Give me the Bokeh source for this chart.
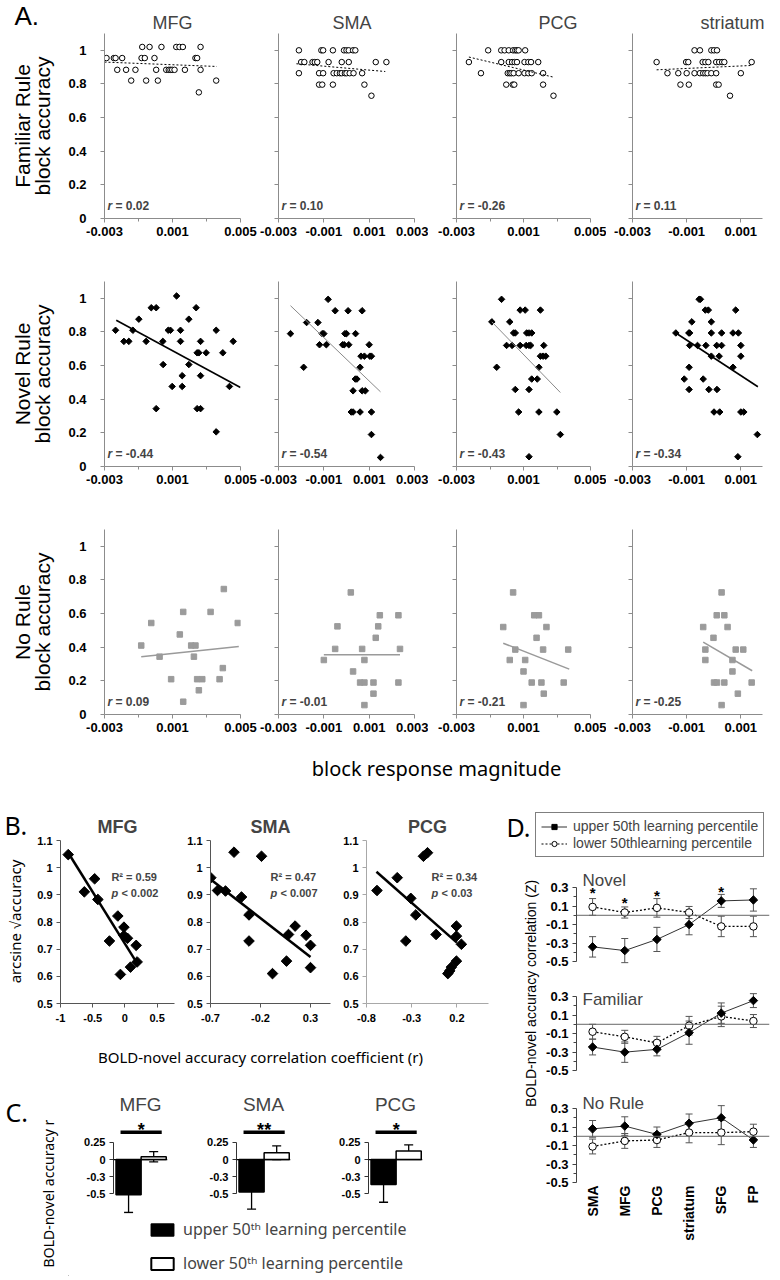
import math
from bokeh.plotting import figure
from bokeh.layouts import row, column
from bokeh.models import (Range1d, FactorRange, FixedTicker, PrintfTickFormatter, Label,
                          Span, Whisker, TeeHead, ColumnDataSource, Legend, LegendItem)
from bokeh.core.properties import value
from bokeh.embed import file_html
from bokeh.resources import INLINE

ARIAL = "Liberation Sans"
HUMAN = "Noto Sans"

# ------------------------------------------------------------------ data: panel A
regions_a = ["MFG", "SMA", "PCG", "striatum"]
row_labels_a = [("Familiar Rule", "block accuracy"), ("Novel Rule", "block accuracy"), ("No Rule", "block accuracy")]
y_ticks_a = [0, 0.2, 0.4, 0.6, 0.8, 1.0]

# Familiar rule (open circles)
fam_mfg_x = [-0.00288, -0.00245, -0.00235, -0.00196, -0.00225, -0.00173, -0.00143, -0.00118, -0.00078, -0.00082,
             -0.00063, -0.00055, -0.00035, -0.00006, 0.00004, 0.00014, 0.00035, 0.00063, 0.00078, 0.00088,
             0.00098, 0.00112, 0.00122, 0.00141, 0.00161, 0.00173, 0.00235, 0.00245, 0.00255, 0.00265,
             0.00265, 0.00357]
fam_mfg_y = [0.954, 0.954, 0.954, 0.954, 0.884, 0.884, 0.82, 0.884, 1.02, 0.954,
             0.954, 0.82, 1.02, 0.954, 0.884, 0.82, 1.02, 0.884, 0.884, 0.884,
             0.884, 0.884, 1.02, 1.02, 1.02, 0.884, 0.954, 0.954, 0.75, 1.02,
             0.884, 0.82]
fam_mfg_fit_x = [-0.003, 0.0036]
fam_mfg_fit_y = [0.93, 0.904]

fam_sma_x = [-0.0021, -0.00111, -0.00103, -0.0006, -0.00011, 0.0, 0.0001, 0.00029, 0.00039,
             -0.002, -0.00186, -0.0015, -0.0014, -0.00129, -0.00079, -0.00021, 0.0001, 0.00129, 0.00176,
             -0.0021, -0.00121, -0.00103, -0.00057, -0.00043, -0.00029, -0.00021, -0.00007, 0.0, 0.00014,
             0.00031, 0.00069,
             -0.00121, -0.00107, -0.0006, 0.00079,
             0.0011]
fam_sma_y = [1.0, 1.0, 1.0, 1.0, 1.0, 1.0, 1.0, 1.0, 1.0,
             0.93, 0.93, 0.93, 0.93, 0.93, 0.93, 0.93, 0.93, 0.93, 0.93,
             0.864, 0.864, 0.864, 0.864, 0.864, 0.864, 0.864, 0.864, 0.864, 0.864,
             0.864, 0.864,
             0.796, 0.796, 0.796, 0.796,
             0.73]
fam_sma_fit_x = [-0.00221, 0.00171]
fam_sma_fit_y = [0.92, 0.874]

fam_pcg_x = [-0.00111, -0.00033, -0.00013, 0.00012, 0.00038, 0.00051, 0.00061, 0.00071, 0.0011,
             -0.00226, -0.00033, 0.00012, 0.00032, 0.00047, 0.00061, 0.00106, 0.00129, 0.00145, 0.00188,
             -0.00154, 0.00006, 0.00018, 0.00028, 0.00041, 0.00071, 0.00106, 0.00129, 0.00149, 0.00217,
             -0.00003, 0.00036, 0.00045, 0.00217,
             0.00279]
fam_pcg_y = [1.0, 1.0, 1.0, 1.0, 1.0, 1.0, 1.0, 1.0, 1.0,
             0.93, 0.93, 0.93, 0.93, 0.93, 0.93, 0.93, 0.93, 0.93, 0.93,
             0.864, 0.864, 0.864, 0.864, 0.864, 0.864, 0.864, 0.864, 0.864, 0.864,
             0.796, 0.796, 0.796, 0.796,
             0.73]
fam_pcg_fit_x = [-0.00226, 0.00281]
fam_pcg_fit_y = [0.96, 0.84]

fam_str_x = [-0.00071, -0.00051, -0.00009, 0.00001, 0.00012,
             -0.00211, -0.00102, -0.00094, -0.00041, -0.00031, -0.0002, 0.00009, 0.0002, 0.00031, 0.00039, 0.0014,
             -0.00171, -0.00131, -0.001, -0.00071, -0.00051, -0.00039, -0.00031, -0.00023, -0.00009, 0.00009, 0.001,
             -0.00123, -0.00092, 0.00009, 0.00018,
             0.0006]
fam_str_y = [1.0, 1.0, 1.0, 1.0, 1.0,
             0.93, 0.93, 0.93, 0.93, 0.93, 0.93, 0.93, 0.93, 0.93, 0.93, 0.93,
             0.864, 0.864, 0.864, 0.864, 0.864, 0.864, 0.864, 0.864, 0.864, 0.864, 0.864,
             0.796, 0.796, 0.796, 0.796,
             0.73]
fam_str_fit_x = [-0.00211, 0.0014]
fam_str_fit_y = [0.884, 0.91]

# Novel rule (black diamonds)
nov_mfg_x = [-0.00235, -0.00186, -0.00157, -0.00133, -0.00098, -0.00055, -0.00025, 0.00004, 0.00043, 0.00045,
             0.00004, 0.00075, 0.00088, 0.00098, 0.00124, 0.00147, 0.00147, 0.00157, 0.00157, 0.00196,
             0.00196, 0.00239, 0.00245, 0.00255, 0.00245, 0.00265, 0.00265, 0.00265, 0.00298, 0.00357,
             0.00357, 0.00396, 0.00435, 0.00457]
nov_mfg_y = [0.81, 0.744, 0.744, 0.81, 0.876, 0.744, 0.944, 0.944, 0.744, 0.606,
             0.344, 0.81, 0.81, 0.476, 1.014, 0.81, 0.744, 0.54, 0.476, 0.876,
             0.606, 0.944, 0.676, 0.676, 0.344, 0.344, 0.744, 0.54, 0.676, 0.81,
             0.206, 0.676, 0.476, 0.744]
nov_mfg_fit_x = [-0.00231, 0.005]
nov_mfg_fit_y = [0.87, 0.47]

nov_sma_x = [-0.00247, -0.00189, -0.00176, -0.00126, -0.00119, -0.00107, -0.001, -0.00089, -0.00081, -0.0005,
             -0.00017, -0.0001, -0.00007, 0.0, 0.00007, 0.0001, 0.00029, 0.00021, 0.00029, 0.0004,
             0.00039, 0.00046, 0.0006, 0.0006, 0.00064, 0.00069, 0.00069, 0.00079, 0.00083, 0.001,
             0.00103, 0.0011, 0.0011, 0.0011, 0.0015]
nov_sma_y = [0.79, 0.59, 0.856, 0.856, 0.724, 0.79, 0.79, 0.724, 0.994, 0.926,
             0.724, 0.724, 0.79, 0.79, 0.926, 0.724, 0.45, 0.324, 0.324, 0.79,
             0.52, 0.52, 0.59, 0.324, 0.656, 0.926, 0.45, 0.656, 0.45, 0.724,
             0.656, 0.656, 0.324, 0.19, 0.054]
nov_sma_fit_x = [-0.00247, 0.0015]
nov_sma_fit_y = [0.956, 0.444]

nov_pcg_x = [-0.00031, 0.0008, 0.0011, 0.00201, -0.00089, 0.00018, 0.00041, 0.00051, 0.00119, 0.00133,
             0.00149, -0.00001, 0.00032, 0.0008, 0.00116, 0.00133, 0.00143, 0.00221, 0.00201, 0.00217,
             0.00233, -0.0006, 0.00192, 0.00149, 0.00182, 0.00051, 0.00133, 0.00071, 0.00192, 0.00299,
             0.0032, 0.00133]
nov_pcg_y = [0.994, 0.93, 0.93, 0.93, 0.86, 0.86, 0.794, 0.794, 0.794, 0.794,
             0.794, 0.72, 0.72, 0.72, 0.72, 0.72, 0.72, 0.72, 0.656, 0.656,
             0.656, 0.59, 0.59, 0.52, 0.52, 0.458, 0.458, 0.324, 0.324, 0.324,
             0.19, 0.058]
nov_pcg_fit_x = [-0.00089, 0.0032]
nov_pcg_fit_y = [0.86, 0.44]

nov_str_x = [-0.00054, -0.00049, -0.00031, -0.0002, 0.00081, -0.00081, -0.00009, -0.0014, -0.00092, -0.00089,
             -0.00009, 0.00029, 0.00071, 0.00091, -0.00089, -0.0006, -0.00029, 0.00011, 0.00029, 0.001,
             -0.00009, 0.0002, 0.001, -0.00091, 0.00071, -0.00109, -0.00039, -0.00091, -0.00018, 0.00012,
             0.00001, 0.00022, 0.001, 0.00111, 0.00161, 0.00089]
nov_str_y = [0.994, 0.994, 0.93, 0.93, 0.93, 0.86, 0.86, 0.794, 0.794, 0.794,
             0.794, 0.794, 0.794, 0.794, 0.72, 0.72, 0.72, 0.72, 0.72, 0.72,
             0.656, 0.656, 0.656, 0.59, 0.59, 0.52, 0.52, 0.458, 0.458, 0.458,
             0.324, 0.324, 0.324, 0.324, 0.19, 0.058]
nov_str_fit_x = [-0.0014, 0.00163]
nov_str_fit_y = [0.794, 0.474]

# No rule (grey squares)
nr_mfg_x = [-0.00084, -0.00025, 0.00024, 0.00092, 0.00143, 0.00163, 0.00163, 0.0021, 0.00235, 0.00226,
            0.00245, 0.00275, 0.00255, 0.00324, 0.00377, 0.00396, 0.00402, 0.00484]
nr_mfg_y = [0.41, 0.544, 0.344, 0.21, 0.476, 0.61, 0.076, 0.41, 0.41, 0.344,
            0.21, 0.21, 0.144, 0.61, 0.21, 0.276, 0.746, 0.544]
nr_mfg_fit_x = [-0.00084, 0.0049]
nr_mfg_fit_y = [0.344, 0.404]

nr_sma_x = [-0.001, -0.0005, -0.0004, 0.00019, 0.00029, 0.0006, 0.00079, 0.00069, 0.00079, 0.00079,
            0.00119, 0.00119, 0.00129, 0.0014, 0.00147, 0.00229, 0.00236, 0.00229]
nr_sma_y = [0.324, 0.39, 0.524, 0.726, 0.256, 0.19, 0.19, 0.39, 0.324, 0.056,
            0.19, 0.124, 0.456, 0.524, 0.59, 0.59, 0.39, 0.19]
nr_sma_fit_x = [-0.001, 0.00236]
nr_sma_fit_y = [0.356, 0.356]

nr_pcg_x = [0.00038, -0.00021, 0.00164, 0.00192, 0.00237, 0.00178, 0.00051, 0.00217, 0.00367, 0.00018,
            0.0011, 0.001, 0.00149, 0.00207, 0.0034, 0.00221, 0.001]
nr_pcg_y = [0.726, 0.52, 0.59, 0.59, 0.52, 0.456, 0.386, 0.386, 0.386, 0.324,
            0.324, 0.256, 0.19, 0.19, 0.19, 0.124, 0.056]
nr_pcg_fit_x = [-0.00021, 0.00373]
nr_pcg_fit_y = [0.424, 0.27]

nr_str_x = [0.00029, 0.00011, 0.00039, -0.00039, 0.00051, -0.00001, -0.00031, 0.00081, 0.00109, -0.00031,
            0.00069, 0.00069, 0.00001, 0.00012, 0.00039, 0.0014, 0.00089, 0.00029]
nr_str_y = [0.726, 0.59, 0.59, 0.52, 0.52, 0.456, 0.386, 0.386, 0.386, 0.324,
            0.324, 0.256, 0.19, 0.19, 0.19, 0.19, 0.124, 0.056]
nr_str_fit_x = [-0.00039, 0.00142]
nr_str_fit_y = [0.43, 0.26]

r_fam = ["0.02", "0.10", "-0.26", "0.11"]
r_nov = ["-0.44", "-0.54", "-0.43", "-0.34"]
r_nr = ["0.09", "-0.01", "-0.21", "-0.25"]

# ------------------------------------------------------------------ data: panel B
regions_b = ["MFG", "SMA", "PCG"]
b_mfg_x = [-0.88, -0.63, -0.47, -0.42, -0.24, -0.11, -0.015, -0.015, 0.04, 0.175, 0.19, 0.087, -0.07]
b_mfg_y = [1.048, 0.911, 0.959, 0.883, 0.73, 0.822, 0.781, 0.75, 0.74, 0.714, 0.653, 0.634, 0.607]
b_mfg_fit_x = [-0.88, 0.2]
b_mfg_fit_y = [1.055, 0.644]
b_sma_x = [-0.697, -0.63, -0.55, -0.465, -0.39, -0.315, -0.315, -0.19, -0.08, 0.08, 0.146, 0.06, 0.256, 0.3, 0.3]
b_sma_y = [0.963, 0.916, 0.914, 1.057, 0.892, 0.826, 0.73, 1.042, 0.61, 0.754, 0.785, 0.656, 0.751, 0.714, 0.632]
b_sma_fit_x = [-0.7, 0.3]
b_sma_fit_y = [0.957, 0.671]
b_pcg_x = [-0.684, -0.46, -0.365, -0.31, -0.255, -0.17, -0.125, -0.03, 0.195, 0.195, 0.25, 0.195, 0.14, 0.12, 0.1]
b_pcg_y = [0.916, 0.963, 0.73, 0.887, 0.826, 1.042, 1.055, 0.754, 0.785, 0.748, 0.718, 0.656, 0.634, 0.62, 0.61]
b_pcg_fit_x = [-0.69, 0.2]
b_pcg_fit_y = [0.985, 0.724]
b_r2 = ["0.59", "0.47", "0.34"]
b_p = ["0.002", "0.007", "0.03"]
b_y_ticks = [0.5, 0.6, 0.7, 0.8, 0.9, 1.0, 1.1]

# ------------------------------------------------------------------ data: panel C
regions_c = ["MFG", "SMA", "PCG"]
c_upper = [-0.515, -0.475, -0.365]
c_upper_err = [0.26, 0.25, 0.26]
c_lower = [0.04, 0.10, 0.125]
c_lower_err = [0.075, 0.10, 0.09]
c_sig = ["*", "**", "*"]
c_groups = ["upper 50\u1d57\u02b0 learning percentile", "lower 50\u1d57\u02b0 learning percentile"]

# ------------------------------------------------------------------ data: panel D
d_regions = ["SMA", "MFG", "PCG", "striatum", "SFG", "FP"]
d_groups = ["upper 50th learning percentile", "lower 50thlearning percentile"]
nov_up = [-0.34, -0.38, -0.26, -0.10, 0.155, 0.165]
nov_up_err = [0.11, 0.13, 0.13, 0.11, 0.07, 0.12]
nov_lo = [0.09, 0.03, 0.08, 0.03, -0.12, -0.12]
nov_lo_err = [0.09, 0.06, 0.10, 0.065, 0.11, 0.11]
nov_star_x = ["SMA", "MFG", "PCG", "SFG"]
nov_star_y = [0.28, 0.17, 0.25, 0.29]
famd_up = [-0.245, -0.30, -0.27, -0.09, 0.12, 0.255]
famd_up_err = [0.085, 0.11, 0.07, 0.125, 0.11, 0.075]
famd_lo = [-0.08, -0.135, -0.20, -0.015, 0.085, 0.035]
famd_lo_err = [0.08, 0.07, 0.07, 0.10, 0.11, 0.07]
nrd_up = [0.08, 0.11, 0.02, 0.14, 0.20, -0.04]
nrd_up_err = [0.09, 0.10, 0.08, 0.10, 0.13, 0.08]
nrd_lo = [-0.11, -0.05, -0.04, 0.04, 0.04, 0.05]
nrd_lo_err = [0.08, 0.08, 0.08, 0.11, 0.13, 0.08]


# ------------------------------------------------------------------ helpers
def make_fig(title=None, **kw):
    opts = dict(output_backend="svg", toolbar_location=None, title=title)
    opts.update(kw)
    p = figure(**opts)
    p.outline_line_color = None
    p.background_fill_color = "white"
    p.border_fill_color = "white"
    p.grid.visible = False
    return p


def blank(w, h):
    return make_fig(width=w, height=h, x_range=Range1d(0, w), y_range=Range1d(0, h),
                    x_axis_type=None, y_axis_type=None, min_border=0)


def put_text(p, h, x, y_top, txt, font, size, style="normal", align="left", angle=0.0):
    p.text(x=[x], y=[h - y_top], text=[txt], text_font=value(font), text_font_size=size,
           text_font_style=style, text_align=align, text_baseline="middle", angle=angle,
           text_color="black")


def style_axis(ax, color, size, bold=True):
    ax.axis_line_color = color
    ax.major_tick_line_color = color
    ax.minor_tick_line_color = color
    ax.major_label_text_font = ARIAL
    ax.major_label_text_font_size = size
    ax.major_label_text_font_style = "bold" if bold else "normal"
    ax.major_label_text_color = "black"
    ax.major_tick_in = 0
    ax.major_tick_out = 4
    ax.minor_tick_in = 0
    ax.minor_tick_out = 3
    ax.major_label_standoff = 4


def style_title(p, size, style, align="center", standoff=2, offset=0):
    p.title.text_font = ARIAL
    p.title.text_font_size = size
    p.title.text_font_style = style
    p.title.align = align
    p.title.offset = offset
    p.title.standoff = standoff


# ------------------------------------------------------------------ panel A
A_COLS = [(46, 136, 18), (20, 136, 14), (28, 134, 16), (26, 130, 10)]
A_XR = [(-0.003, 0.005), (-0.003, 0.003), (-0.003, 0.005), (-0.003, 0.0018)]
A_XT = [([-0.003, 0.001, 0.005], [-0.001, 0.003]),
        ([-0.003, -0.001, 0.001, 0.003], []),
        ([-0.003, 0.001, 0.005], [-0.001, 0.003]),
        ([-0.003, -0.001, 0.001], [])]
A_TITLE_OFF = [48, 54, 82, 68]
A_TOP = 33
A_FH = 185

A_DATA = [
    [(fam_mfg_x, fam_mfg_y, fam_mfg_fit_x, fam_mfg_fit_y), (fam_sma_x, fam_sma_y, fam_sma_fit_x, fam_sma_fit_y),
     (fam_pcg_x, fam_pcg_y, fam_pcg_fit_x, fam_pcg_fit_y), (fam_str_x, fam_str_y, fam_str_fit_x, fam_str_fit_y)],
    [(nov_mfg_x, nov_mfg_y, nov_mfg_fit_x, nov_mfg_fit_y), (nov_sma_x, nov_sma_y, nov_sma_fit_x, nov_sma_fit_y),
     (nov_pcg_x, nov_pcg_y, nov_pcg_fit_x, nov_pcg_fit_y), (nov_str_x, nov_str_y, nov_str_fit_x, nov_str_fit_y)],
    [(nr_mfg_x, nr_mfg_y, nr_mfg_fit_x, nr_mfg_fit_y), (nr_sma_x, nr_sma_y, nr_sma_fit_x, nr_sma_fit_y),
     (nr_pcg_x, nr_pcg_y, nr_pcg_fit_x, nr_pcg_fit_y), (nr_str_x, nr_str_y, nr_str_fit_x, nr_str_fit_y)],
]
A_R = [r_fam, r_nov, r_nr]
FIT_STYLE = [
    [("black", 1, "2 2")] * 4,
    [("black", 1.6, "solid"), ("#8a8a8a", 1, "solid"), ("#8a8a8a", 1, "solid"), ("black", 1.6, "solid")],
    [("#9a9a9a", 1.5, "solid")] * 4,
]

a_labels = []
a_rows = []
for ri in range(3):
    fig_h = A_TOP + A_FH + 30
    lab = blank(58, fig_h)
    cy = A_TOP + A_FH / 2
    put_text(lab, fig_h, 22, cy, row_labels_a[ri][0], ARIAL, "21px", align="center", angle=math.pi / 2)
    put_text(lab, fig_h, 42, cy, row_labels_a[ri][1], ARIAL, "21px", align="center", angle=math.pi / 2)
    if ri == 0:
        put_text(lab, fig_h, 14, 15, "A.", ARIAL, "26px")
    a_labels.append(lab)
    figs = []
    for ci in range(4):
        lb, fw, rb = A_COLS[ci]
        p = make_fig(title=regions_a[ci] if ri == 0 else None,
                     frame_width=fw, frame_height=A_FH, min_border_left=lb, min_border_right=rb,
                     min_border_top=A_TOP, min_border_bottom=30,
                     x_range=Range1d(*A_XR[ci]), y_range=Range1d(0, 1.1))
        style_axis(p.xaxis, "#8c8c8c", "13px")
        style_axis(p.yaxis, "#8c8c8c", "13px")
        p.xaxis.ticker = FixedTicker(ticks=A_XT[ci][0], minor_ticks=A_XT[ci][1])
        p.xaxis.formatter = PrintfTickFormatter(format="%g")
        p.yaxis.ticker = FixedTicker(ticks=y_ticks_a)
        p.yaxis.formatter = PrintfTickFormatter(format="%g")
        if ci == 0:
            p.yaxis.major_label_standoff = 14
        else:
            p.yaxis.major_label_text_font_size = "1px"
            p.yaxis.major_label_text_color = None
            p.yaxis.major_label_standoff = 0
        if ri == 0:
            style_title(p, "18px", "normal", align="left", standoff=1, offset=A_TITLE_OFF[ci])
        xs, ys, fx, fy = A_DATA[ri][ci]
        if ri == 0:
            p.scatter(xs, ys, marker="circle", size=5.5, fill_color="white", line_color="black", line_width=1)
        elif ri == 1:
            p.scatter(xs, ys, marker="square", angle=math.pi / 4, size=4.6, color="black")
        else:
            p.scatter(xs, ys, marker="square", size=5.5, color="#9b9b9b")
        col, lw, dash = FIT_STYLE[ri][ci]
        p.line(fx, fy, line_color=col, line_width=lw, line_dash=dash)
        p.add_layout(Label(x=3, y=13, x_units="screen", y_units="screen", text="r",
                           text_font=ARIAL, text_font_size="12px", text_font_style="bold italic",
                           text_baseline="middle"))
        p.add_layout(Label(x=11, y=13, x_units="screen", y_units="screen", text="= " + A_R[ri][ci],
                           text_font=ARIAL, text_font_size="12px", text_font_style="bold",
                           text_baseline="middle"))
        figs.append(p)
    a_rows.append(row(*figs))

panelA = row(column(*a_labels), column(*a_rows))

stripA = blank(772, 40)
put_text(stripA, 40, 436, 24, "block response magnitude", HUMAN, "20px", align="center")

# ------------------------------------------------------------------ panel B
B_DATA = [(b_mfg_x, b_mfg_y, b_mfg_fit_x, b_mfg_fit_y), (b_sma_x, b_sma_y, b_sma_fit_x, b_sma_fit_y),
          (b_pcg_x, b_pcg_y, b_pcg_fit_x, b_pcg_fit_y)]
B_XR = [(-1, 0.77), (-0.7, 0.5), (-0.8, 0.55)]
B_XT = [[-1, -0.5, 0, 0.5], [-0.7, -0.2, 0.3], [-0.8, -0.3, 0.2]]
B_COLS = [(25, 114, 10), (25, 120, 10), (25, 122, 8)]
B_AXC = ["#555555", "#555555", "#a8a8a8"]
B_TXT_X = [-0.21, -0.1, -0.08]

blab = blank(34, 247)
put_text(blab, 247, 4, 40, "B.", HUMAN, "25px")
put_text(blab, 247, 14, 137, "arcsine \u221aaccuracy", HUMAN, "15px", align="center", angle=math.pi / 2)

b_figs = []
for i in range(3):
    lb, fw, rb = B_COLS[i]
    p = make_fig(title=regions_b[i], frame_width=fw, frame_height=163, min_border_left=lb, min_border_right=rb,
                 min_border_top=56, min_border_bottom=28,
                 x_range=Range1d(*B_XR[i]), y_range=Range1d(0.5, 1.1))
    style_axis(p.xaxis, B_AXC[i], "11px")
    style_axis(p.yaxis, B_AXC[i], "11px")
    p.xaxis.ticker = FixedTicker(ticks=B_XT[i])
    p.xaxis.formatter = PrintfTickFormatter(format="%g")
    p.xaxis.major_label_standoff = 6
    p.yaxis.ticker = FixedTicker(ticks=b_y_ticks)
    p.yaxis.formatter = PrintfTickFormatter(format="%g")
    style_title(p, "18px", "bold", standoff=8)
    xs, ys, fx, fy = B_DATA[i]
    p.line(fx, fy, line_color="black", line_width=2.5)
    p.scatter(xs, ys, marker="square", angle=math.pi / 4, size=7.5, color="black")
    p.add_layout(Label(x=B_TXT_X[i], y=0.965, text="R\u00b2 = " + b_r2[i], text_font=ARIAL,
                       text_font_size="11px", text_font_style="bold", text_baseline="middle"))
    p.add_layout(Label(x=B_TXT_X[i], y=0.907, text="p", text_font=ARIAL,
                       text_font_size="11px", text_font_style="bold italic", text_baseline="middle"))
    p.add_layout(Label(x=B_TXT_X[i], y=0.907, x_offset=10, text="< " + b_p[i], text_font=ARIAL,
                       text_font_size="11px", text_font_style="bold", text_baseline="middle"))
    b_figs.append(p)

stripB = blank(493, 40)
put_text(stripB, 40, 260, 25, "BOLD-novel accuracy correlation coefficient (r)", HUMAN, "15px", align="center")

# ------------------------------------------------------------------ panel C
C_COLS = [(45, 54, 24), (45, 54, 33), (45, 54, 71)]
c_figs = []
for i in range(3):
    lb, fw, rb = C_COLS[i]
    p = make_fig(title=regions_c[i], frame_width=fw, frame_height=99, min_border_left=lb, min_border_right=rb,
                 min_border_top=43, min_border_bottom=6, x_axis_type=None,
                 x_range=Range1d(0.4, 2.55), y_range=Range1d(-0.79, 0.66))
    style_axis(p.yaxis, "#333333", "11px")
    p.yaxis.ticker = FixedTicker(ticks=[-0.5, -0.25, 0, 0.25])
    p.yaxis.major_label_overrides = {0.25: "0.25", 0: "0", -0.25: "-0.3", -0.5: "-0.5"}
    p.yaxis.bounds = (-0.5, 0.25)
    style_title(p, "19px", "normal", standoff=0)
    tops = [c_upper[i], c_lower[i]]
    errs = [c_upper_err[i], c_lower_err[i]]
    src = ColumnDataSource(dict(x=[1, 2], top=tops, fill=["black", "white"],
                                hi=[t + e for t, e in zip(tops, errs)],
                                lo=[t - e for t, e in zip(tops, errs)]))
    p.add_layout(Whisker(source=src, base="x", upper="hi", lower="lo", line_color="black", line_width=1.3,
                         upper_head=TeeHead(size=9, line_color="black", line_width=1.3),
                         lower_head=TeeHead(size=9, line_color="black", line_width=1.3), level="underlay"))
    p.vbar(x="x", top="top", width=1.0, fill_color="fill", line_color="black", line_width=1.5, source=src)
    p.add_layout(Span(location=0, dimension="width", line_color="black", line_width=1.2))
    p.line([0.68, 2.32], [0.40, 0.40], line_color="black", line_width=3.5)
    p.text(x=[1.5], y=[0.43], text=[c_sig[i]], text_font=value(ARIAL), text_font_size="18px",
           text_font_style="bold", text_align="center", text_baseline="alphabetic")
    c_figs.append(p)

clab = blank(68, 205)
put_text(clab, 205, 5, 40, "C.", HUMAN, "25px")
put_text(clab, 205, 48, 122, "BOLD-novel accuracy r", HUMAN, "14px", align="center", angle=math.pi / 2)

cleg = blank(425, 57)
rc1 = cleg.vbar(x=[-100], top=[-100], bottom=[-110], width=1, fill_color="black", line_color="black",
                line_width=1.5)
rc2 = cleg.vbar(x=[-100], top=[-100], bottom=[-110], width=1, fill_color="white", line_color="black",
                line_width=2)
legC = Legend(items=[LegendItem(label=c_groups[0], renderers=[rc1]),
                     LegendItem(label=c_groups[1], renderers=[rc2])],
              location=(80, 2), orientation="vertical", padding=0, margin=0, spacing=12,
              glyph_width=28, glyph_height=15, label_height=15, label_standoff=7,
              label_text_font=HUMAN, label_text_font_size="16px",
              border_line_color=None, background_fill_alpha=0)
cleg.add_layout(legC)

# ------------------------------------------------------------------ panel D
D_SPECS = [("Novel", nov_up, nov_up_err, nov_lo, nov_lo_err, 0.38, 9, 6),
           ("Familiar", famd_up, famd_up_err, famd_lo, famd_lo_err, 0.27, 12, 6),
           ("No Rule", nrd_up, nrd_up_err, nrd_lo, nrd_lo_err, 0.35, 15, 59)]
d_figs = []
for k, (name, up, upe, lo, loe, ny, top, bot) in enumerate(D_SPECS):
    last = k == 2
    p = make_fig(frame_width=193, frame_height=91, min_border_left=35, min_border_right=6,
                 min_border_top=top, min_border_bottom=bot,
                 x_range=FactorRange(*d_regions), y_range=Range1d(-0.53, 0.45),
                 x_axis_type="auto" if last else None)
    style_axis(p.yaxis, "#444444", "13px")
    p.yaxis.ticker = FixedTicker(ticks=[-0.5, -0.3, -0.1, 0.1, 0.3], minor_ticks=[-0.4, -0.2, 0, 0.2])
    p.yaxis.formatter = PrintfTickFormatter(format="%g")
    p.yaxis.bounds = (-0.5, 0.3)
    if last:
        p.xaxis.axis_line_color = None
        p.xaxis.major_tick_line_color = None
        p.xaxis.major_label_orientation = math.pi / 2
        p.xaxis.major_label_text_font = ARIAL
        p.xaxis.major_label_text_font_size = "14px"
        p.xaxis.major_label_text_font_style = "bold"
        p.xaxis.major_label_text_color = "black"
        p.xaxis.major_label_standoff = -6
    p.add_layout(Span(location=0, dimension="width", line_color="#666666", line_width=1))
    src = ColumnDataSource(dict(x=d_regions, up=up, lo=lo,
                                up_hi=[a + b for a, b in zip(up, upe)], up_lo=[a - b for a, b in zip(up, upe)],
                                lo_hi=[a + b for a, b in zip(lo, loe)], lo_lo=[a - b for a, b in zip(lo, loe)]))
    for hi, lw in (("up_hi", "up_lo"), ("lo_hi", "lo_lo")):
        p.add_layout(Whisker(source=src, base="x", upper=hi, lower=lw, line_color="#555555", line_width=1,
                             upper_head=TeeHead(size=7, line_color="#555555", line_width=1),
                             lower_head=TeeHead(size=7, line_color="#555555", line_width=1),
                             level="underlay"))
    p.line("x", "lo", source=src, line_color="black", line_width=1.3, line_dash="2 2")
    p.line("x", "up", source=src, line_color="#333333", line_width=1)
    p.scatter("x", "lo", source=src, marker="circle", size=7.5, fill_color="white", line_color="black",
              line_width=1)
    p.scatter("x", "up", source=src, marker="square", angle=math.pi / 4, size=6, color="black")
    if k == 0:
        p.text(x=nov_star_x, y=nov_star_y, text=["*"] * len(nov_star_x), text_font=value(ARIAL),
               text_font_size="15px", text_font_style="bold", text_align="center",
               text_baseline="middle", y_offset=3)
    p.add_layout(Label(x=6, y=ny, x_units="screen", text=name, text_font=ARIAL, text_font_size="17px",
                       text_baseline="middle"))
    d_figs.append(p)

dleg = blank(279, 80)
put_text(dleg, 80, 10, 42, "D.", HUMAN, "25px")
l1 = dleg.line([-100, -90], [-100, -100], line_color="#333333", line_width=1)
s1 = dleg.scatter([-100], [-100], marker="square", angle=math.pi / 4, size=6, color="black")
l2 = dleg.line([-100, -90], [-100, -100], line_color="black", line_width=1.2, line_dash="2 2")
s2 = dleg.scatter([-100], [-100], marker="circle", size=7, fill_color="white", line_color="black")
legD = Legend(items=[LegendItem(label=d_groups[0], renderers=[l1, s1]),
                     LegendItem(label=d_groups[1], renderers=[l2, s2])],
              location=(39, 7), orientation="vertical", padding=5, margin=0, spacing=1,
              glyph_width=26, glyph_height=13, label_height=13, label_standoff=6,
              label_text_font=ARIAL, label_text_font_size="14px",
              border_line_color="black", border_line_width=1, background_fill_alpha=0)
dleg.add_layout(legD)

dlab = blank(45, 380)
put_text(dlab, 380, 34, 127, "BOLD-novel accuracy  correlation (Z)", ARIAL, "14px", align="center",
         angle=math.pi / 2)

# ------------------------------------------------------------------ layout
left = column(row(blab, row(*b_figs)), stripB, row(clab, column(row(*c_figs), cleg)))
right = column(dleg, row(dlab, column(*d_figs)))
layout = column(panelA, stripA, row(left, right))

open("out.html", "w").write(file_html(layout, INLINE))
